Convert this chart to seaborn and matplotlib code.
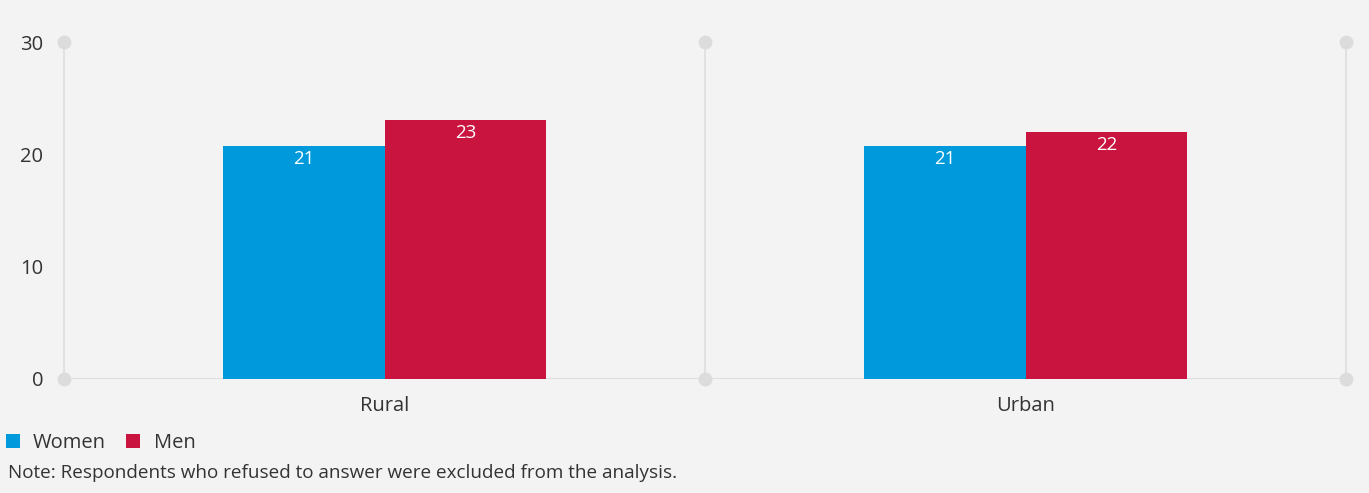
import matplotlib
matplotlib.use("Agg")
import matplotlib.pyplot as plt
import seaborn as sns
import pandas as pd
from matplotlib.patches import Patch

categories = ["Rural", "Urban"]
women = [20.75, 20.75]
men = [23.05, 22.0]
series_names = ["Women", "Men"]
colors = ["#0099DB", "#C8143F"]
yticks = [0, 10, 20, 30]
note = "Note: Respondents who refused to answer were excluded from the analysis."

df = pd.DataFrame({
    "Area": categories * 2,
    "Sex": [series_names[0]] * len(categories) + [series_names[1]] * len(categories),
    "Value": women + men,
})

sns.set_theme(style="white")
plt.rcParams["font.family"] = ["Open Sans", "DejaVu Sans"]
bg = "#F3F3F3"
txt = "#333333"
grid_c = "#DCDCDC"

fig = plt.figure(figsize=(13.69, 4.93), dpi=100, facecolor=bg)
ax = fig.add_axes([64 / 1369, 1 - 379 / 493, (1346 - 64) / 1369, (379 - 42) / 493])
ax.set_facecolor(bg)

sns.barplot(data=df, x="Area", y="Value", hue="Sex", palette=colors,
            width=0.505, saturation=1, ax=ax, legend=False, zorder=3,
            linewidth=0, edgecolor="none")

ax.set_xlim(-0.5, len(categories) - 0.5)
ax.set_ylim(0, 30)
for s in ax.spines.values():
    s.set_visible(False)

# vertical grid lines with dots
for xv in [i - 0.5 for i in range(len(categories) + 1)]:
    ax.plot([xv, xv], [0, 30], color=grid_c, lw=1.1, zorder=1, clip_on=False)
    ax.plot([xv, xv], [0, 30], "o", color=grid_c, ms=10, zorder=2, clip_on=False,
            markeredgewidth=0)
ax.axhline(0, color=grid_c, lw=1.3, zorder=1)

ax.set_yticks(yticks)
ax.set_yticklabels([str(t) for t in yticks], fontsize=14.5, color=txt)
ax.tick_params(axis="y", length=0, pad=15)
ax.tick_params(axis="x", length=0, pad=12, labelsize=14.5, labelcolor=txt)
ax.set_xlabel("")
ax.set_ylabel("")

for p in ax.patches:
    h = p.get_height()
    if h > 0:
        ax.annotate(f"{h:.0f}", (p.get_x() + p.get_width() / 2, h),
                    xytext=(0, -3), textcoords="offset points",
                    ha="center", va="top", color="white", fontsize=13.5, zorder=5)

handles = [Patch(facecolor=c, edgecolor="none") for c in colors]
leg = fig.legend(handles, series_names, loc="lower left", frameon=False, ncol=2, fontsize=14.5,
                 handlelength=0.7, handleheight=0.7, handletextpad=0.65, columnspacing=1.0,
                 labelcolor=txt, borderaxespad=0, borderpad=0)
leg.set_bbox_to_anchor((6 / 1369, 1 - 453 / 493), transform=fig.transFigure)

fig.text(8 / 1369, 1 - 473 / 493, note, fontsize=13.6, color=txt, va="center", ha="left")

fig.savefig("out.png", dpi=100, facecolor=bg)
